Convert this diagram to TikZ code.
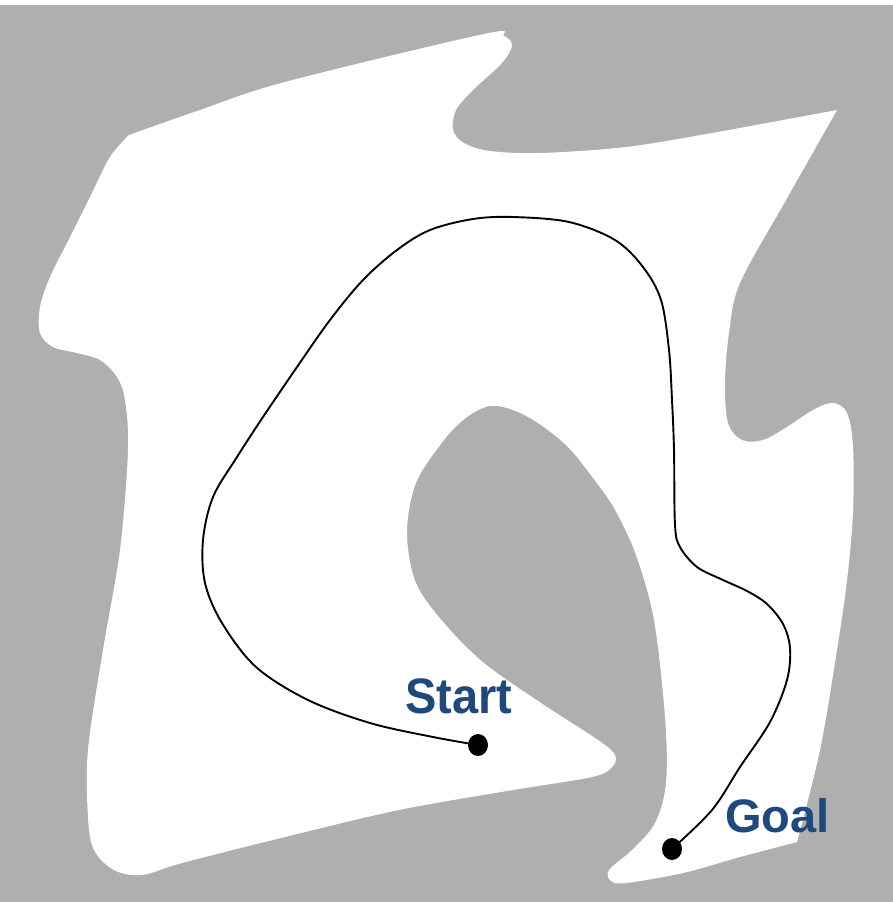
\documentclass[tikz,border=0pt]{standalone}
\usepackage{fontspec}
\usetikzlibrary{shapes.geometric}
\newfontfamily\lblfont{Liberation Sans}
\definecolor{bggray}{HTML}{AFAFAF}
\definecolor{lblblue}{HTML}{1F497D}
\begin{document}
\begin{tikzpicture}[x=1pt,y=-1pt,
  dotnode/.style={ellipse,fill=black,inner sep=0pt,minimum width=20pt,minimum height=22pt},
  lbl/.style={inner sep=0pt,text=lblblue,font=\lblfont\bfseries\fontsize{47}{56}\selectfont},
  route/.style={line width=1.9pt,black}]
\useasboundingbox (0,0) rectangle (893,902);
\fill[white] (0,0) rectangle (893,902);
\fill[bggray] (0,5) rectangle (893,902);
% free space
\fill[white]
  plot[smooth,tension=0.55] coordinates {(129,135) (200,110) (285,82) (484,34) (504,36) (512,46) (501,64) (473,90) (456,110) (453,130) (464,143) (490,151) (541,153) (626,147) (712,133) (837,110)}
  -- plot[smooth,tension=0.55] coordinates {(837,110) (820,140) (786,200) (740,283) (729,333) (725,383) (728,423) (742,440) (763,440) (787,427) (813,410) (833,403) (847,413) (853,447) (853,513) (847,580) (837,650) (820,750) (797,842)}
  -- plot[smooth,tension=0.55] coordinates {(797,842) (740,857) (683,873) (626,883) (611,881) (609,870) (632,850) (655,823) (666,783) (665,717) (654,620) (636,555) (614,508) (593,478) (568,447) (538,423) (513,410) (490,406) (467,417) (444,440) (416,483) (407,533) (416,583) (444,623) (484,663) (541,703) (598,740) (615,755) (612,767) (592,777) (513,790) (399,810) (285,837) (182,863) (142,875) (114,870) (94,850) (88,817) (88,750) (103,650) (120,550) (128,450) (125,400) (117,377) (100,360) (77,353) (53,347) (40,333) (40,307) (50,277) (67,243) (90,197) (110,157) (129,135)}
  -- cycle;
% start and goal
\node[dotnode] (s) at (478,745) {};
\node[dotnode] (g) at (672,849) {};
\draw[route] plot[smooth,tension=0.55] coordinates {(s.center) (433,737) (370,723) (308,700) (256,667) (222,623) (205,583) (203,540) (213,497) (237,457) (263,417) (297,367) (330,320) (363,280) (397,250) (430,230) (473,219) (513,217) (569,222) (615,240) (643,267) (661,300) (669,350) (672,400) (674,450) (675,525) (680,547) (697,567) (723,580) (747,591) (767,604) (783,624) (790,648) (787,680) (770,722) (740,767) (712,810) (g.center)};
\node[lbl,anchor=base west,yscale=1.06] (st) at (405,713) {Start};
\node[lbl,anchor=base west] (gl) at (725,832) {Goal};
\end{tikzpicture}
\end{document}
